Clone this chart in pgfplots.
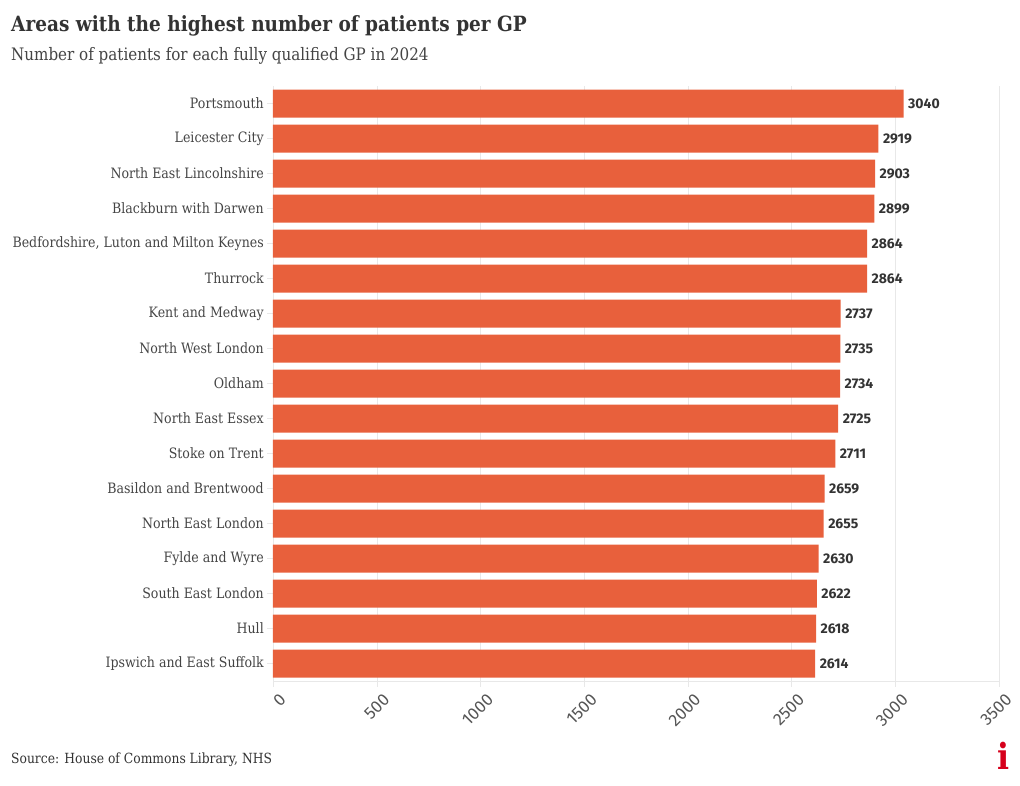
\documentclass[border=0pt]{standalone}
\usepackage{fontspec}
\setmainfont{DejaVu Serif}[FakeStretch=0.88]
\newfontfamily\numfont{Fira Sans}
\usepackage{pgfplots}
\pgfplotsset{compat=1.18}
\definecolor{barred}{RGB}{232,96,60}
\definecolor{gridgray}{RGB}{232,232,232}
\definecolor{txt}{RGB}{51,51,51}
\definecolor{lbl}{RGB}{68,68,68}
\definecolor{ticktxt}{RGB}{85,85,85}
\definecolor{logored}{RGB}{214,0,28}

\begin{document}
\begin{tikzpicture}
\useasboundingbox (0,0) rectangle (1020pt,785pt);
\node[anchor=base west, text=txt, font=\bfseries\fontsize{21}{24}\selectfont, inner sep=0] at (11pt,753pt) {Areas with the highest number of patients per GP};
\node[anchor=base west, text=lbl, font=\fontsize{17.2}{19}\selectfont, inner sep=0] at (11pt,724pt) {Number of patients for each fully qualified GP in 2024};
\node[anchor=base west, text=txt, font=\fontsize{14}{16}\selectfont, inner sep=0] at (11pt,22pt) {Source: House of Commons Library, NHS};
\node[anchor=base, text=logored, font=\bfseries\fontsize{36}{36}\selectfont, inner sep=0] at (1004pt,16pt) {i};
\begin{axis}[
    at={(273pt,104pt)}, anchor=south west,
    scale only axis, width=726pt, height=595pt,
    xbar, bar width=28pt,
    xmin=0, xmax=3500, ymin=-0.5, ymax=16.5,
    y dir=reverse,
    axis x line*=bottom, axis y line*=left,
    x axis line style={draw=gridgray},
    y axis line style={draw=none},
    xtick={0,500,...,3500},
    ytick={0,...,16},
    yticklabels={Portsmouth, Leicester City, North East Lincolnshire, Blackburn with Darwen, {Bedfordshire, Luton and Milton Keynes}, Thurrock, Kent and Medway, North West London, Oldham, North East Essex, Stoke on Trent, Basildon and Brentwood, North East London, Fylde and Wyre, South East London, Hull, Ipswich and East Suffolk},
    tick style={draw=gridgray, thin},
    tick align=outside, major tick length=6pt,
    xmajorgrids, grid style={draw=gridgray, thin},
    /pgf/number format/assume math mode=true,
    /pgf/number format/set thousands separator={},
    x tick label style={rotate=45, anchor=north east, font=\numfont\fontsize{17}{17}\selectfont, text=ticktxt, inner sep=1pt, xshift=1pt, yshift=-7pt},
    y tick label style={font=\fontsize{14.3}{16}\selectfont, text=lbl, inner sep=3pt},
    nodes near coords,
    every node near coord/.append style={font=\numfont\bfseries\fontsize{14}{14}\selectfont, text=txt, anchor=west, xshift=1pt},
]
\addplot[fill=barred, draw=none] coordinates {
(3040,0) (2919,1) (2903,2) (2899,3) (2864,4) (2864,5) (2737,6) (2735,7) (2734,8)
(2725,9) (2711,10) (2659,11) (2655,12) (2630,13) (2622,14) (2618,15) (2614,16)
};
\end{axis}
\end{tikzpicture}
\end{document}
